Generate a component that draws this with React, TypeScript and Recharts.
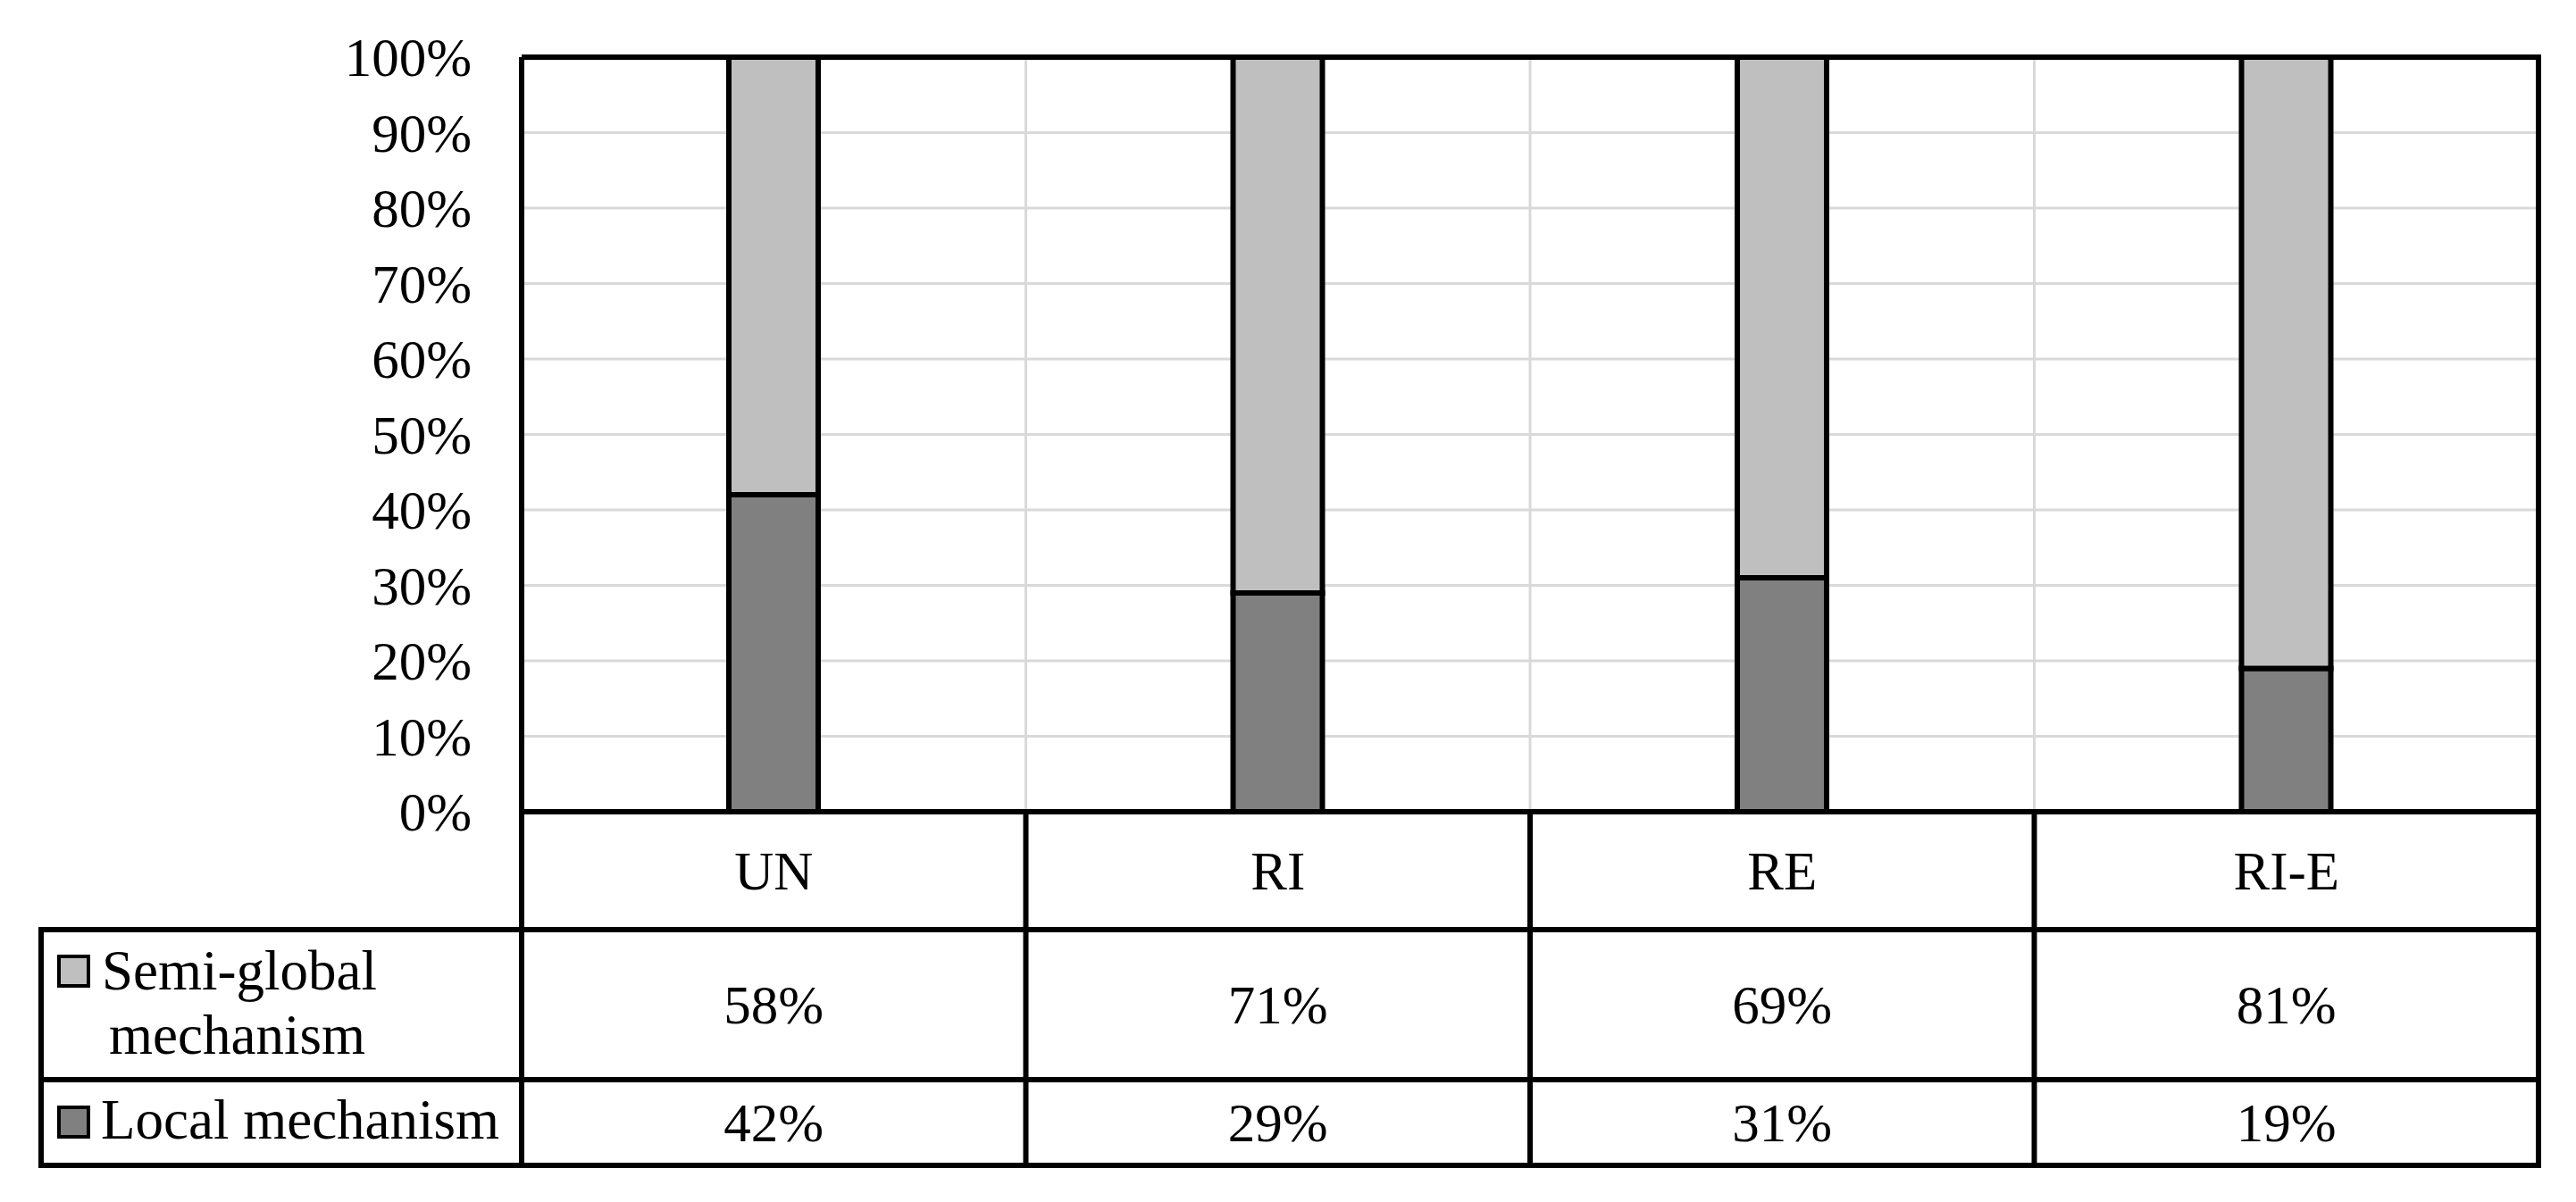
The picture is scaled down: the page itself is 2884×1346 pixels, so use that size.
import React from 'react';
import { BarChart, Bar, XAxis, YAxis, CartesianGrid, ReferenceLine } from 'recharts';

const categories = ['UN', 'RI', 'RE', 'RI-E'];
const localValues = [42, 29, 31, 19];
const semiGlobalValues = [58, 71, 69, 81];
const yTicks = [0, 10, 20, 30, 40, 50, 60, 70, 80, 90, 100];
const semiGlobalName = ['Semi-global', 'mechanism'];
const localName = 'Local mechanism';

const data = categories.map((c, i) => ({
  category: c,
  local: localValues[i],
  semi: semiGlobalValues[i],
}));

const W = 2884;
const H = 1346;
const PLOT_TOP = 64;
const PLOT_BOTTOM = 909;
const PLOT_LEFT = 584;
const PLOT_RIGHT = 2842;
const TABLE_LEFT = 46;
const ROW_H = [132, 168, 96];
const BOTTOM_MARGIN = H - (PLOT_BOTTOM + ROW_H[0] + ROW_H[1] + ROW_H[2]);
const COL_W = (PLOT_RIGHT - PLOT_LEFT) / categories.length;
const FONT = "'Liberation Serif', 'Times New Roman', serif";
const FS_AXIS = 61;
const FS_TABLE = 61;
const FS_LEGEND = 63;
const LINE = '#000';
const LW = 6;
const LOCAL_COLOR = '#808080';
const SEMI_COLOR = '#bfbfbf';

const YTick = (props: any) => {
  const { x, y, payload } = props;
  return (
    <text x={x} y={y + 21} textAnchor="end" fontFamily={FONT} fontSize={FS_AXIS} fill="#000">
      {payload.value + '%'}
    </text>
  );
};

const makeRowTick = (row: number) => (props: any) => {
  const { x, y, index } = props;
  const h = ROW_H[row];
  const left = x - COL_W / 2;
  const right = x + COL_W / 2;
  const last = index === categories.length - 1;
  let label = '';
  if (row === 0) label = categories[index];
  else if (row === 1) label = semiGlobalValues[index] + '%';
  else label = localValues[index] + '%';
  const parts: any[] = [];
  parts.push(<line key="l" x1={left} y1={y} x2={left} y2={y + h} stroke={LINE} strokeWidth={LW} strokeLinecap="square" />);
  if (last) {
    const top = row === 0 ? PLOT_TOP : y;
    parts.push(<line key="r" x1={right} y1={top} x2={right} y2={y + h} stroke={LINE} strokeWidth={LW} strokeLinecap="square" />);
  }
  if (index === 0 && row > 0) {
    parts.push(<line key="t" x1={TABLE_LEFT} y1={y} x2={PLOT_RIGHT} y2={y} stroke={LINE} strokeWidth={LW} strokeLinecap="square" />);
    parts.push(<line key="tl" x1={TABLE_LEFT} y1={y} x2={TABLE_LEFT} y2={y + h} stroke={LINE} strokeWidth={LW} strokeLinecap="square" />);
    if (row === 2) {
      parts.push(<line key="b" x1={TABLE_LEFT} y1={y + h} x2={PLOT_RIGHT} y2={y + h} stroke={LINE} strokeWidth={LW} strokeLinecap="square" />);
    }
    if (row === 1) {
      parts.push(<rect key="sq" x={66} y={y + 30} width={33} height={33} fill={SEMI_COLOR} stroke={LINE} strokeWidth={4} />);
      parts.push(<text key="n1" x={114} y={y + 67} fontFamily={FONT} fontSize={FS_LEGEND} fill="#000">{semiGlobalName[0]}</text>);
      parts.push(<text key="n2" x={122} y={y + 139} fontFamily={FONT} fontSize={FS_LEGEND} fill="#000">{semiGlobalName[1]}</text>);
    } else {
      parts.push(<rect key="sq" x={66} y={y + 31} width={33} height={33} fill={LOCAL_COLOR} stroke={LINE} strokeWidth={4} />);
      parts.push(<text key="n1" x={113} y={y + 66} fontFamily={FONT} fontSize={FS_LEGEND} fill="#000">{localName}</text>);
    }
  }
  parts.push(
    <text key="v" x={x} y={y + h / 2 + 21} textAnchor="middle" fontFamily={FONT} fontSize={FS_TABLE} fill="#000">
      {label}
    </text>
  );
  return <g>{parts}</g>;
};

const gridVerticals = (args: any) => {
  const off = args.offset;
  return categories.slice(1).map((_, i) => off.left + ((i + 1) * off.width) / categories.length);
};

export default function App() {
  return (
    <div style={{ position: 'absolute', left: 0, top: 0, width: W, height: H, background: '#fff' }}>
      <BarChart
        width={W}
        height={H}
        data={data}
        margin={{ top: PLOT_TOP, right: W - PLOT_RIGHT, bottom: BOTTOM_MARGIN, left: 0 }}
        barSize={100}
      >
        <CartesianGrid
          xAxisId="r0"
          yAxisId="left"
          stroke="#d9d9d9"
          strokeWidth={3}
          verticalCoordinatesGenerator={gridVerticals}
        />
        <XAxis
          xAxisId="r0"
          dataKey="category"
          height={ROW_H[0]}
          tickSize={0}
          tickMargin={0}
          tickLine={false}
          axisLine={{ stroke: LINE, strokeWidth: LW }}
          tick={makeRowTick(0)}
          interval={0}
        />
        <XAxis
          xAxisId="r1"
          dataKey="category"
          height={ROW_H[1]}
          tickSize={0}
          tickMargin={0}
          tickLine={false}
          axisLine={false}
          tick={makeRowTick(1)}
          interval={0}
        />
        <XAxis
          xAxisId="r2"
          dataKey="category"
          height={ROW_H[2]}
          tickSize={0}
          tickMargin={0}
          tickLine={false}
          axisLine={false}
          tick={makeRowTick(2)}
          interval={0}
        />
        <YAxis
          yAxisId="left"
          type="number"
          domain={[0, 100]}
          ticks={yTicks}
          interval={0}
          width={PLOT_LEFT}
          tickSize={0}
          tickMargin={56}
          tickLine={false}
          axisLine={{ stroke: LINE, strokeWidth: LW }}
          tick={YTick}
        />
        <ReferenceLine yAxisId="left" xAxisId="r0" y={100} stroke={LINE} strokeWidth={LW} />
        <Bar
          xAxisId="r0"
          yAxisId="left"
          dataKey="local"
          name={localName}
          stackId="s"
          fill={LOCAL_COLOR}
          stroke={LINE}
          strokeWidth={LW}
          isAnimationActive={false}
        />
        <Bar
          xAxisId="r0"
          yAxisId="left"
          dataKey="semi"
          name={semiGlobalName.join(' ')}
          stackId="s"
          fill={SEMI_COLOR}
          stroke={LINE}
          strokeWidth={LW}
          isAnimationActive={false}
        />
      </BarChart>
    </div>
  );
}
